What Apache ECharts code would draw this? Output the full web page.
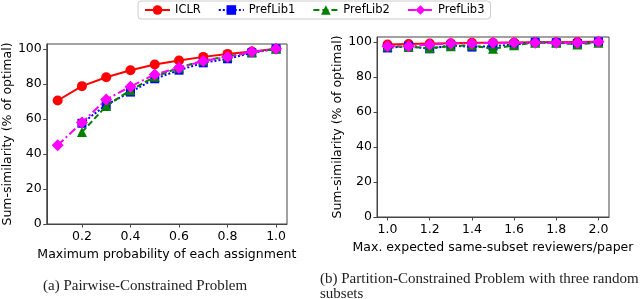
<!DOCTYPE html>
<html><head><meta charset="utf-8">
<script src="https://cdn.jsdelivr.net/npm/echarts@6/dist/echarts.min.js"></script>
<style>html,body{margin:0;padding:0;background:#fff}#c{width:640px;height:299px}</style>
</head><body><div id="c"></div>
<script>
const seriesNames = ['ICLR', 'PrefLib1', 'PrefLib2', 'PrefLib3'];
const leftX = [0.1, 0.2, 0.3, 0.4, 0.5, 0.6, 0.7, 0.8, 0.9, 1.0];
const iclrA  = [70.5, 78.7, 83.8, 87.8, 91.0, 93.3, 95.4, 97.1, 98.4, 100];
const pref1A = [null, 57.5, 68.0, 75.3, 82.9, 87.8, 92.0, 94.3, 97.7, 100];
const pref2A = [null, 52.5, 67.3, 76.4, 84.0, 89.2, 93.3, 95.7, 98.0, 100];
const pref3A = [45.0, 57.9, 71.1, 78.4, 85.4, 89.2, 93.0, 95.4, 98.3, 100];
const rightX = [1.0, 1.1, 1.2, 1.3, 1.4, 1.5, 1.6, 1.7, 1.8, 1.9, 2.0];
const iclrB  = [98.5, 98.8, 99.0, 99.2, 99.4, 99.5, 99.6, 99.7, 99.8, 99.9, 100];
const pref1B = [96.5, 97.5, 96.0, 98.0, 97.0, 97.5, 98.5, 99.8, 99.5, 99.0, 100];
const pref2B = [97.5, 97.0, 96.5, 97.5, 98.0, 96.0, 98.0, 99.5, 99.5, 98.5, 99.5];
const pref3B = [97.5, 97.5, 98.5, 99.0, 99.0, 99.5, 99.5, 99.5, 99.5, 99.5, 100];
const leftXTicks = [0.2, 0.4, 0.6, 0.8, 1.0];
const rightXTicks = [1.0, 1.2, 1.4, 1.6, 1.8, 2.0];
const yTicks = [0, 20, 40, 60, 80, 100];
const yLabel = 'Sum-similarity (% of optimal)';
const xLabelA = 'Maximum probability of each assignment';
const xLabelB = 'Max. expected same-subset reviewers/paper';
const captionA = '(a) Pairwise-Constrained Problem';
const captionB1 = '(b) Partition-Constrained Problem with three random';
const captionB2 = 'subsets';

const styles = [
  {color: '#ff0000', symbol: 'circle', size: 10, type: 'solid'},
  {color: '#0000ff', symbol: 'rect', size: 9, type: 'dotted'},
  {color: '#008000', symbol: 'triangle', size: 10, type: [6, 3]},
  {color: '#ff00ff', symbol: 'diamond', size: 12, type: [8, 3, 2, 3]}
];
function pairs(xs, ys) {
  const out = [];
  xs.forEach((x, i) => { if (ys[i] !== null) out.push([x, ys[i]]); });
  return out;
}
const font = 'DejaVu Sans';
function xAxis(idx, min, max, ticks, name, gap) {
  return {
    type: 'value', gridIndex: idx, min: min, max: max,
    name: name, nameLocation: 'middle', nameGap: gap,
    nameTextStyle: {fontFamily: font, fontSize: 12.5, color: '#000'},
    axisLine: {show: true, onZero: false, lineStyle: {color: '#444', width: 1}},
    axisTick: {show: true, length: 3.5, customValues: ticks, lineStyle: {color: '#444'}},
    axisLabel: {customValues: ticks, margin: 6, fontFamily: font, fontSize: 12.5, color: '#000',
      formatter: v => Number(v).toFixed(1)},
    splitLine: {show: false}
  };
}
function yAxis(idx, gap) {
  return {
    type: 'value', gridIndex: idx, min: 0, max: 102.75,
    name: yLabel, nameLocation: 'middle', nameGap: gap, nameRotate: 90,
    nameTextStyle: {fontFamily: font, fontSize: 12.5, color: '#000'},
    axisLine: {show: true, lineStyle: {color: '#444', width: 1}},
    axisTick: {show: true, length: 3.5, customValues: yTicks, lineStyle: {color: '#444'}},
    axisLabel: {customValues: yTicks, margin: 5, fontFamily: font, fontSize: 12.5, color: '#000'},
    splitLine: {show: false}
  };
}
const dataA = [iclrA, pref1A, pref2A, pref3A];
const dataB = [iclrB, pref1B, pref2B, pref3B];
const series = [];
[0, 1].forEach(g => {
  seriesNames.forEach((n, i) => {
    const s = styles[i];
    series.push({
      name: n, type: 'line', xAxisIndex: g, yAxisIndex: g,
      data: g === 0 ? pairs(leftX, dataA[i]) : pairs(rightX, dataB[i]),
      symbol: s.symbol, symbolSize: s.size, showAllSymbol: true,
      lineStyle: {color: s.color, width: 2, type: s.type},
      itemStyle: {color: s.color},
      emphasis: {disabled: true}, animation: false, z: 2 + i
    });
  });
});
const chart = echarts.init(document.getElementById('c'), null, {renderer: 'canvas'});
chart.setOption({
  animation: false,
  legend: {
    data: seriesNames, left: 138, top: 1, itemWidth: 25, itemHeight: 12, itemGap: 17,
    padding: [3, 6], borderColor: '#ccc', borderWidth: 1, borderRadius: 3,
    textStyle: {fontFamily: font, fontSize: 11.5, color: '#000'}
  },
  grid: [
    {left: 45, right: 353, top: 44, bottom: 75, show: true, borderColor: '#444', borderWidth: 1},
    {left: 377, right: 31, top: 37, bottom: 82, show: true, borderColor: '#444', borderWidth: 1}
  ],
  xAxis: [xAxis(0, 0.055, 1.045, leftXTicks, xLabelA, 22), xAxis(1, 0.95, 2.05, rightXTicks, xLabelB, 22)],
  yAxis: [yAxis(0, 31), yAxis(1, 31)],
  series: series,
  graphic: [
    {type: 'text', left: 43, top: 279, style: {text: captionA, font: '15px "Liberation Serif"', fill: '#222'}},
    {type: 'text', left: 320, top: 272, style: {text: captionB1, font: '15px "Liberation Serif"', fill: '#222'}},
    {type: 'text', left: 320, top: 287, style: {text: captionB2, font: '15px "Liberation Serif"', fill: '#222'}}
  ]
});
</script></body></html>
